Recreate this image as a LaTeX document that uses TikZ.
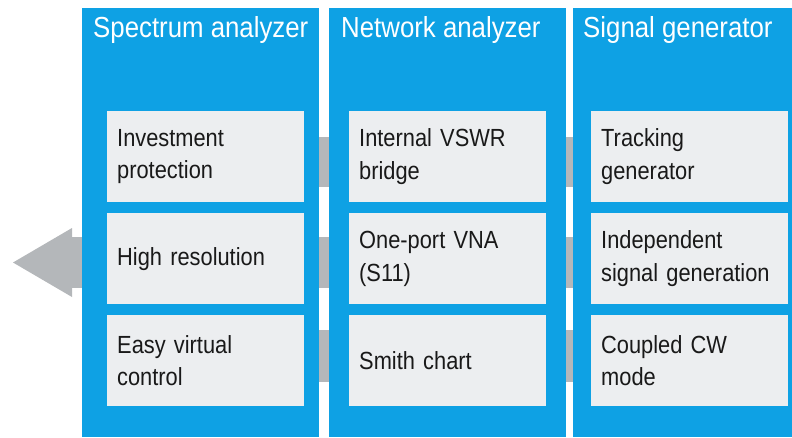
\documentclass[tikz,border=0pt]{standalone}
\usepackage{fontspec}
\setmainfont{Liberation Sans}
\newfontfamily\titlefont{Liberation Sans}[FakeStretch=0.89]
\newfontfamily\boxfont{Liberation Sans}[FakeStretch=0.88]
\definecolor{rsblue}{RGB}{14,161,228}
\definecolor{boxgray}{RGB}{236,238,240}
\definecolor{bandgray}{RGB}{180,183,186}
\begin{document}
\begin{tikzpicture}[x=1pt, y=-1pt,
    title/.style={anchor=base west, inner sep=0pt, text=white, font=\titlefont\fontsize{29}{30}\selectfont},
    feature/.style={fill=boxgray, anchor=north west, minimum width=197pt, minimum height=91pt,
        text width=177pt, inner xsep=10pt, align=left, text=black!90, font=\boxfont\fontsize{24.8}{32.5}\selectfont}]
    \useasboundingbox (0,0) rectangle (792,437);
    % gray bands and arrow behind the columns
    \fill[bandgray] (82,137) rectangle (580,187);
    \fill[bandgray] (72,237) rectangle (580,288);
    \fill[bandgray] (82,330) rectangle (580,382);
    \fill[bandgray] (72,228) -- (13,262.5) -- (72,297) -- cycle;
    % columns
    \fill[rsblue] (82,8) rectangle (319,437);
    \fill[rsblue] (329,8) rectangle (566,437);
    \fill[rsblue] (573,8) rectangle (792,437);
    \node[title] (tsa) at (93,37) {Spectrum analyzer};
    \node[title] (tna) at (341,37) {Network analyzer};
    \node[title] (tsg) at (583,37) {Signal generator};
    % features
    \node[feature] (invest) at (107,111) {Investment\\protection};
    \node[feature] (hires) at (107,213) {High resolution};
    \node[feature] (easy) at (107,315) {Easy virtual\\control};
    \node[feature] (vswr) at (349,111) {Internal VSWR\\bridge};
    \node[feature] (vna) at (349,213) {One-port VNA\\(S11)};
    \node[feature] (smith) at (349,315) {Smith chart};
    \node[feature] (track) at (591,111) {Tracking\\generator};
    \node[feature] (indep) at (591,213) {Independent\\signal generation};
    \node[feature] (cw) at (591,315) {Coupled CW\\mode};
\end{tikzpicture}
\end{document}
